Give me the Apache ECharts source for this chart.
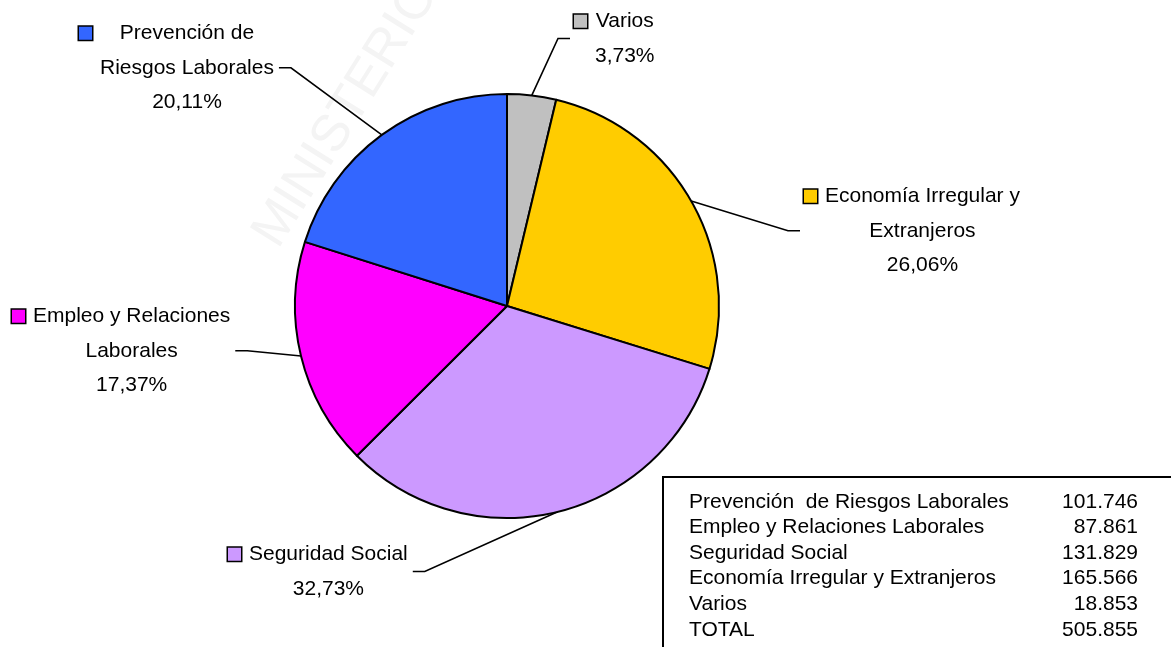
<!DOCTYPE html>
<html>
<head>
<meta charset="utf-8">
<script src="https://cdn.jsdelivr.net/npm/echarts@6/dist/echarts.min.js"></script>
<style>
  html, body { margin: 0; padding: 0; background: #fff; }
  #main { width: 1171px; height: 647px; }
</style>
</head>
<body>
<div id="main"></div>
<script>
// pie slices, clockwise from 12 o'clock
var categories = ['Varios', 'Economía Irregular y\nExtranjeros', 'Seguridad Social', 'Empleo y Relaciones\nLaborales', 'Prevención de\nRiesgos Laborales'];
var shares = [3.73, 26.06, 32.73, 17.37, 20.11];
var colors = ['#c0c0c0', '#ffcc00', '#cc99ff', '#ff00ff', '#3366ff'];

// summary box
var tableNames = ['Prevención  de Riesgos Laborales', 'Empleo y Relaciones Laborales', 'Seguridad Social', 'Economía Irregular y Extranjeros', 'Varios', 'TOTAL'];
var tableValues = [101746, 87861, 131829, 165566, 18853, 505855];

// top-left corner of each label block
var labelPos = [[570, 4], [800, 179], [224, 537], [8, 299], [75, 16]];

var FONT = 'Liberation Sans, Arial, sans-serif';

function fmtThousands(v) {
  return String(v).replace(/\B(?=(\d{3})+(?!\d))/g, '.');
}

var rich = {
  sp: { width: 8, align: 'left' },
  gap: { width: 21, align: 'left' },
  t: { fontSize: 21, fontFamily: FONT, color: '#000', align: 'center', lineHeight: 34.5 }
};
colors.forEach(function (c, i) {
  rich['k' + i] = { width: 13, height: 13, backgroundColor: c, borderColor: '#000', borderWidth: 1.5, align: 'left' };
});

var myChart = echarts.init(document.getElementById('main'));
myChart.setOption({
  animation: false,
  backgroundColor: '#fff',
  graphic: [
    {
      type: 'text',
      x: 288,
      y: 256,
      rotation: 58 * Math.PI / 180,
      z: -10,
      style: { text: 'MINISTERIO', fontSize: 52, fontFamily: FONT, fill: '#f4f4f4', verticalAlign: 'bottom' }
    },
    {
      type: 'rect',
      shape: { x: 663, y: 477, width: 560, height: 220 },
      style: { fill: '#fff', stroke: '#000', lineWidth: 2 }
    },
    {
      type: 'text',
      x: 689,
      y: 489,
      style: { text: tableNames.join('\n'), fontSize: 21, fontFamily: FONT, lineHeight: 25.6, fill: '#000' }
    },
    {
      type: 'text',
      x: 1138,
      y: 489,
      style: { text: tableValues.map(fmtThousands).join('\n'), fontSize: 21, fontFamily: FONT, lineHeight: 25.6, fill: '#000', align: 'right' }
    }
  ],
  series: [{
    type: 'pie',
    center: [507, 306],
    radius: 212,
    startAngle: 90,
    clockwise: true,
    avoidLabelOverlap: false,
    emphasis: { disabled: true },
    data: categories.map(function (name, i) {
      return { name: name, value: shares[i], itemStyle: { color: colors[i] } };
    }),
    itemStyle: { borderColor: '#000', borderWidth: 2 },
    label: {
      show: true,
      color: '#000',
      fontSize: 21,
      fontFamily: FONT,
      lineHeight: 34.5,
      padding: [0, 5, 0, 4],
      formatter: function (p) {
        var lines = p.name.split('\n');
        lines.push(p.value.toFixed(2).replace('.', ',') + '%');
        return lines.map(function (s, i) {
          return (i === 0 ? '{k' + p.dataIndex + '|}{sp|}' : '{gap|}') + '{t|' + s + '}';
        }).join('\n');
      },
      rich: rich
    },
    labelLine: {
      show: true,
      length: 15,
      length2: 12,
      smooth: false,
      lineStyle: { color: '#000', width: 1.6 }
    },
    labelLayout: function (p) {
      var pos = labelPos[p.dataIndex];
      return { x: pos[0], y: pos[1], align: 'left', verticalAlign: 'top' };
    }
  }]
});
</script>
</body>
</html>
